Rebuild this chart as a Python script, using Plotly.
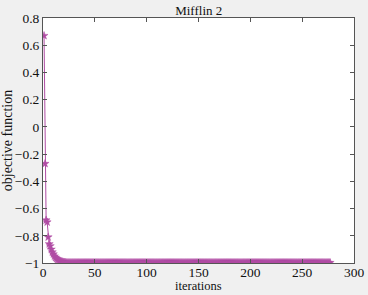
import plotly.graph_objects as go

title_text = "Mifflin 2"
x_label = "iterations"
y_label = "objective function"

head_values = [0.67, -0.27, -0.685, -0.70, -0.81, -0.86, -0.875, -0.90, -0.92, -0.935,
               -0.95, -0.96, -0.968, -0.975, -0.98, -0.985, -0.988, -0.99, -0.992, -0.994,
               -0.995, -0.996]
tail_values = [
    -0.998, -0.998, -0.998, -0.998, -0.998, -0.998, -0.998, -0.998, -0.998, -0.998, -0.998, -0.998, -0.998, -0.998, -0.998,
    -0.998, -0.998, -0.998, -0.998, -0.998, -0.998, -0.998, -0.998, -0.998, -0.998, -0.998, -0.998, -0.998, -0.998, -0.998,
    -0.998, -0.998, -0.998, -0.998, -0.998, -0.998, -0.998, -0.998, -0.998, -0.998, -0.998, -0.998, -0.998, -0.998, -0.998,
    -0.998, -0.998, -0.998, -0.998, -0.998, -0.998, -0.998, -0.998, -0.998, -0.998, -0.998, -0.998, -0.998, -0.998, -0.998,
    -0.998, -0.998, -0.998, -0.998, -0.998, -0.998, -0.998, -0.998, -0.998, -0.998, -0.998, -0.998, -0.998, -0.998, -0.998,
    -0.998, -0.998, -0.998, -0.998, -0.998, -0.998, -0.998, -0.998, -0.998, -0.998, -0.998, -0.998, -0.998, -0.998, -0.998,
    -0.998, -0.998, -0.998, -0.998, -0.998, -0.998, -0.998, -0.998, -0.998, -0.998, -0.998, -0.998, -0.998, -0.998, -0.998,
    -0.998, -0.998, -0.998, -0.998, -0.998, -0.998, -0.998, -0.998, -0.998, -0.998, -0.998, -0.998, -0.998, -0.998, -0.998,
    -0.998, -0.998, -0.998, -0.998, -0.998, -0.998, -0.998, -0.998, -0.998, -0.998, -0.998, -0.998, -0.998, -0.998, -0.998,
    -0.998, -0.998, -0.998, -0.998, -0.998, -0.998, -0.998, -0.998, -0.998, -0.998, -0.998, -0.998, -0.998, -0.998, -0.998,
    -0.998, -0.998, -0.998, -0.998, -0.998, -0.998, -0.998, -0.998, -0.998, -0.998, -0.998, -0.998, -0.998, -0.998, -0.998,
    -0.998, -0.998, -0.998, -0.998, -0.998, -0.998, -0.998, -0.998, -0.998, -0.998, -0.998, -0.998, -0.998, -0.998, -0.998,
    -0.998, -0.998, -0.998, -0.998, -0.998, -0.998, -0.998, -0.998, -0.998, -0.998, -0.998, -0.998, -0.998, -0.998, -0.998,
    -0.998, -0.998, -0.998, -0.998, -0.998, -0.998, -0.998, -0.998, -0.998, -0.998, -0.998, -0.998, -0.998, -0.998, -0.998,
    -0.998, -0.998, -0.998, -0.998, -0.998, -0.998, -0.998, -0.998, -0.998, -0.998, -0.998, -0.998, -0.998, -0.998, -0.998,
    -0.998, -0.998, -0.998, -0.998, -0.998, -0.998, -0.998, -0.998, -0.998, -0.998, -0.998, -0.998, -0.998, -0.998, -0.998,
    -0.998, -0.998, -0.998, -0.998, -0.998, -0.998, -0.998, -0.998, -0.998, -0.998, -0.998, -0.998, -0.998, -0.998, -0.998,
]
objective_values = head_values + tail_values
iterations = list(range(1, len(objective_values) + 1))

x_ticks = [0, 50, 100, 150, 200, 250, 300]
y_ticks = [-1, -0.8, -0.6, -0.4, -0.2, 0, 0.2, 0.4, 0.6, 0.8]
y_tick_labels = ["\u22121", "\u22120.8", "\u22120.6", "\u22120.4", "\u22120.2", "0", "0.2", "0.4", "0.6", "0.8"]

color = "#b04ca4"
font_family = "Liberation Serif, Times New Roman, serif"

fig = go.Figure(go.Scatter(
    x=iterations, y=objective_values, mode="lines+markers",
    line=dict(color=color, width=1),
    marker=dict(symbol="star", size=6, color=color, line=dict(width=0.5, color=color)),
    showlegend=False,
))

axis_common = dict(
    showline=True, linecolor="#555555", linewidth=1, mirror="ticks",
    ticks="inside", ticklen=4, tickcolor="#555555", showgrid=False, zeroline=False,
    automargin=False,
    tickfont=dict(family=font_family, size=13.5, color="#111111"),
)

plot_h = 295 - 18 - 32

fig.update_layout(
    width=368, height=295,
    margin=dict(l=43, r=14, t=18, b=32),
    paper_bgcolor="#f0f0f0", plot_bgcolor="white",
    font=dict(family=font_family, color="#111111"),
    title=dict(text=title_text, x=0.54, xanchor="center", y=0.965, yanchor="middle",
               font=dict(family=font_family, size=13, color="#111111")),
    xaxis=dict(range=[0, 300], tickvals=x_ticks, ticktext=[str(v) for v in x_ticks],
               ticklabelstandoff=-3, **axis_common),
    yaxis=dict(range=[-1, 0.8], tickvals=y_ticks, ticktext=y_tick_labels,
               title=dict(text=y_label, standoff=2, font=dict(family=font_family, size=14)),
               **axis_common),
    annotations=[dict(text=x_label, xref="paper", yref="paper", x=0.5, y=-32 / plot_h,
                      xanchor="center", yanchor="bottom", showarrow=False,
                      font=dict(family=font_family, size=12.5, color="#111111"))],
)

fig.write_html("out.html", config={"displayModeBar": False},
               post_script="document.body.style.margin='0';document.body.style.overflow='hidden';")
